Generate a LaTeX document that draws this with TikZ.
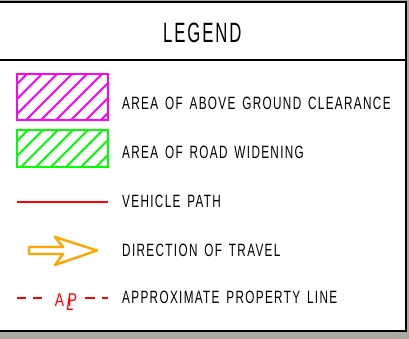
\documentclass[tikz,border=0pt]{standalone}
\usepackage{fontspec}
\newfontfamily\titlefont{Liberation Sans}[FakeStretch=0.60, LetterSpace=6.7]
\newfontfamily\labelfont{Liberation Sans}[FakeStretch=0.66, LetterSpace=7.5, WordSpace=1.5]
\newfontfamily\markfont{Liberation Sans}[FakeStretch=0.75]
\definecolor{surround}{RGB}{172,168,162}
\definecolor{hatchmag}{RGB}{255,0,255}
\definecolor{hatchgrn}{RGB}{0,255,0}
\definecolor{pathred}{RGB}{255,0,0}
\definecolor{travelorange}{RGB}{255,165,0}
\tikzset{
  frameline/.style={draw=black, line width=1.4pt},
  labeltext/.style={anchor=base west, inner sep=0pt, font=\labelfont\fontsize{17.8}{20}\selectfont},
  redtext/.style={anchor=base, inner sep=0pt, text=pathred, font=\markfont\fontsize{18.5}{20}\selectfont},
  swatch/.style={line width=2pt},
  hatch/.style={line width=1.8pt},
  travelarrow/.style={draw=travelorange, line width=2.4pt, line join=round},
}
\begin{document}
\begin{tikzpicture}[x=1pt,y=-1pt]
\useasboundingbox (0,0) rectangle (409,339);
% surroundings and legend panel
\fill[surround] (0,0) rectangle (409,339);
\fill[white] (-5,2) rectangle (406,331);
\draw[frameline] (-5,2) -- (406,2) -- (406,331) -- (-5,331);
\draw[frameline] (-5,60) -- (406,60);
\node[anchor=base west, inner sep=0pt, font=\titlefont\fontsize{27.9}{30}\selectfont] (title) at (163,43) {LEGEND};

% above ground clearance swatch
\begin{scope}
  \clip (17,74) rectangle (108,120);
  \foreach \c in {101,116,...,236}
    \draw[hatch, hatchmag] (\c-200,200) -- (\c,0);
\end{scope}
\draw[swatch, hatchmag] (17,74) rectangle (108,120);
\node[labeltext] (clearance) at (122,110) {AREA OF ABOVE GROUND CLEARANCE};

% road widening swatch
\begin{scope}
  \clip (17,130) rectangle (108,167);
  \foreach \c in {143,158,...,278}
    \draw[hatch, hatchgrn] (\c-250,250) -- (\c,0);
\end{scope}
\draw[swatch, hatchgrn] (17,130) rectangle (108,167);
\node[labeltext] (widening) at (122,158.3) {AREA OF ROAD WIDENING};

% vehicle path
\coordinate (pathL) at (17,202);
\coordinate (pathR) at (108,202);
\draw[pathred, line width=2.6pt] (pathL) -- (pathR);
\node[labeltext] (vehicle) at (122,207.3) {VEHICLE PATH};

% direction of travel
\draw[travelarrow] (29,247) -- (63,247) -- (55,237) -- (97,250.5) -- (55,265) -- (63,254) -- (29,254) -- cycle;
\node[labeltext] (travel) at (122,256.7) {DIRECTION OF TRAVEL};

% property line
\coordinate (plA) at (17,298);
\coordinate (plB) at (42,298);
\coordinate (plC) at (85,298);
\coordinate (plD) at (108,298);
\draw[pathred, line width=1.1pt, dash pattern=on 9pt off 7pt] (plA) -- (plB);
\draw[pathred, line width=1.1pt, dash pattern=on 10pt off 7pt] (plC) -- (plD);
\node[redtext] (plLetterA) at (59.5,306) {A};
\node[redtext] (plLetterP) at (72.5,306) {P};
\node[redtext, xslant=0.15] (plLetterL) at (69.5,310.5) {L};
\node[labeltext] (property) at (122,303.3) {APPROXIMATE PROPERTY LINE};
\end{tikzpicture}
\end{document}
